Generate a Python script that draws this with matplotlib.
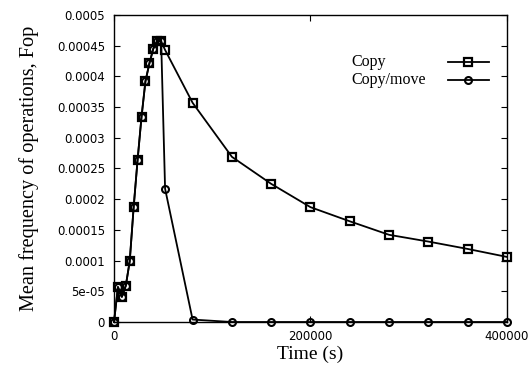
import matplotlib
matplotlib.use("Agg")
import matplotlib.pyplot as plt
from matplotlib.lines import Line2D

# time (s)
time_copy = [0, 4000, 8000, 12000, 16000, 20000, 24000, 28000, 32000, 36000,
             40000, 44000, 48000, 52000, 80000, 120000, 160000, 200000,
             240000, 280000, 320000, 360000, 400000]
fop_copy = [0.0, 0.000057, 0.000041, 0.000059, 0.000099, 0.000187, 0.000264,
            0.000334, 0.000392, 0.000421, 0.000445, 0.000458, 0.000457,
            0.000443, 0.000357, 0.000269, 0.000225, 0.000187, 0.000164,
            0.000142, 0.000131, 0.000119, 0.000106]

time_move = [0, 4000, 8000, 12000, 16000, 20000, 24000, 28000, 32000, 36000,
             40000, 44000, 48000, 52000, 80000, 120000, 160000, 200000,
             240000, 280000, 320000, 360000, 400000]
fop_move = [0.0, 0.000057, 0.000041, 0.000059, 0.000099, 0.000187, 0.000264,
            0.000334, 0.000392, 0.000421, 0.000445, 0.000458, 0.000457,
            0.000217, 0.000004, 0.0, 0.0, 0.0, 0.0, 0.0, 0.0, 0.0, 0.0]

labels = ["Copy", "Copy/move"]
xticks = [0, 200000, 400000]
yticks = [0, 0.00005, 0.0001, 0.00015, 0.0002, 0.00025, 0.0003, 0.00035,
          0.0004, 0.00045, 0.0005]
yticklabels = ["0", "5e-05", "0.0001", "0.00015", "0.0002", "0.00025",
               "0.0003", "0.00035", "0.0004", "0.00045", "0.0005"]

serif = "Liberation Serif"

fig = plt.figure(figsize=(5.31, 3.74), dpi=100)
ax = fig.add_axes([0.2147, 0.139, 0.740, 0.821])

sq = dict(color="black", lw=1.3, marker="s", ms=6, mfc="none", mew=1.6)
ci = dict(color="black", lw=1.3, marker="o", ms=5, mfc="none", mew=1.5)
ax.plot(time_move, fop_move, clip_on=False, **ci)
ax.plot(time_copy, fop_copy, clip_on=False, **sq)

ax.set_xlim(0, 400000)
ax.set_ylim(0, 0.0005)
ax.set_xticks(xticks)
ax.set_xticklabels([str(t) for t in xticks])
ax.set_yticks(yticks)
ax.set_yticklabels(yticklabels)
ax.tick_params(direction="in", length=4, width=0.8, top=True, right=True,
               labelsize=8.5, colors="black", pad=6.5)
ax.tick_params(axis="x", pad=6)
for s in ax.spines.values():
    s.set_linewidth(1.0)

ax.set_xlabel("Time (s)", fontfamily=serif, fontsize=14, labelpad=2)
ax.set_ylabel("Mean frequency of operations, Fop", fontfamily=serif,
              fontsize=14.6, labelpad=13)

# key: labels left-aligned, samples on the right
handles = [Line2D([], [], **sq), Line2D([], [], **ci)]
leg = ax.legend(handles, ["", ""], loc="upper right",
                bbox_to_anchor=(0.975, 0.893), frameon=False,
                handlelength=2.6, handletextpad=0, labelspacing=0.2,
                fontsize=11.5, borderpad=0)
ax.text(0.605, 0.847, labels[0], transform=ax.transAxes, fontfamily=serif,
        fontsize=11.5, va="center", ha="left")
ax.text(0.605, 0.788, labels[1], transform=ax.transAxes, fontfamily=serif,
        fontsize=11.5, va="center", ha="left")

fig.savefig("out.png", dpi=100)
